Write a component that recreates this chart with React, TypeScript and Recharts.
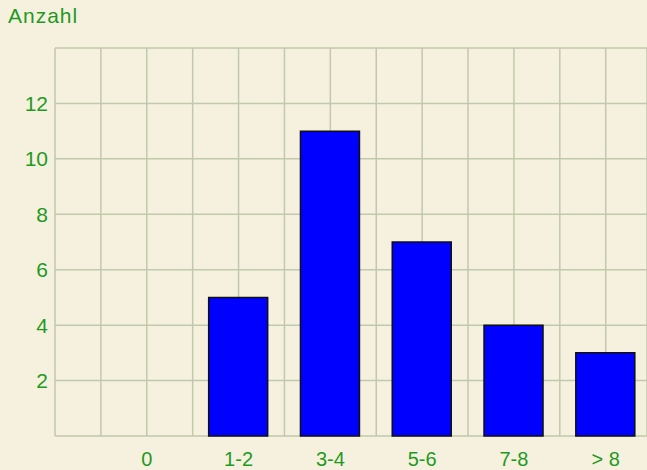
import React from "react";
import { BarChart, Bar, XAxis, YAxis, CartesianGrid } from "recharts";

const categories = ["0", "1-2", "3-4", "5-6", "7-8", "> 8"];
const counts = [0, 5, 11, 7, 4, 3];
const xGridTicks = [0, 0.5, 1, 1.5, 2, 2.5, 3, 3.5, 4, 4.5, 5, 5.5, 6, 6.5];
const yTicks = [0, 2, 4, 6, 8, 10, 12, 14];
const yLabelTicks = [2, 4, 6, 8, 10, 12];

const data = categories.map((c, i) => ({ pos: i + 1, name: c, count: counts[i] }));

const GREEN = "#1f9a1f";
const FONT = "'Liberation Sans', Arial, sans-serif";

export default function App() {
  return (
    <div style={{ position: "absolute", left: 0, top: 0, width: 647, height: 470, background: "#f6f1df", overflow: "hidden" }}>
      <div style={{ position: "absolute", left: 8, top: 4, color: GREEN, fontFamily: FONT, fontSize: 21, letterSpacing: 1 }}>Anzahl</div>
      <BarChart width={647} height={470} data={data} margin={{ top: 48, right: 0, bottom: 0, left: 0 }}>
        <CartesianGrid stroke="#c0c9aa" strokeWidth={1.5} />
        <XAxis
          dataKey="pos"
          type="number"
          domain={[0, 6.45]}
          ticks={xGridTicks}
          allowDataOverflow
          axisLine={false}
          tickLine={false}
          tickSize={0}
          tickMargin={16}
          height={34}
          interval={0}
          tickFormatter={(v: number) => (Number.isInteger(v) && v >= 1 ? categories[v - 1] : "")}
          tick={{ fill: GREEN, fontSize: 20, fontFamily: FONT }}
        />
        <YAxis
          type="number"
          domain={[0, 14]}
          ticks={yTicks}
          interval={0}
          width={55}
          axisLine={false}
          tickLine={false}
          tickSize={0}
          tickMargin={7}
          tickFormatter={(v: number) => (yLabelTicks.includes(v) ? String(v) : "")}
          tick={{ fill: GREEN, fontSize: 21, fontFamily: FONT }}
        />
        <Bar dataKey="count" fill="#0000ff" stroke="#101010" strokeWidth={1.5} barSize={59} isAnimationActive={false} />
      </BarChart>
    </div>
  );
}
